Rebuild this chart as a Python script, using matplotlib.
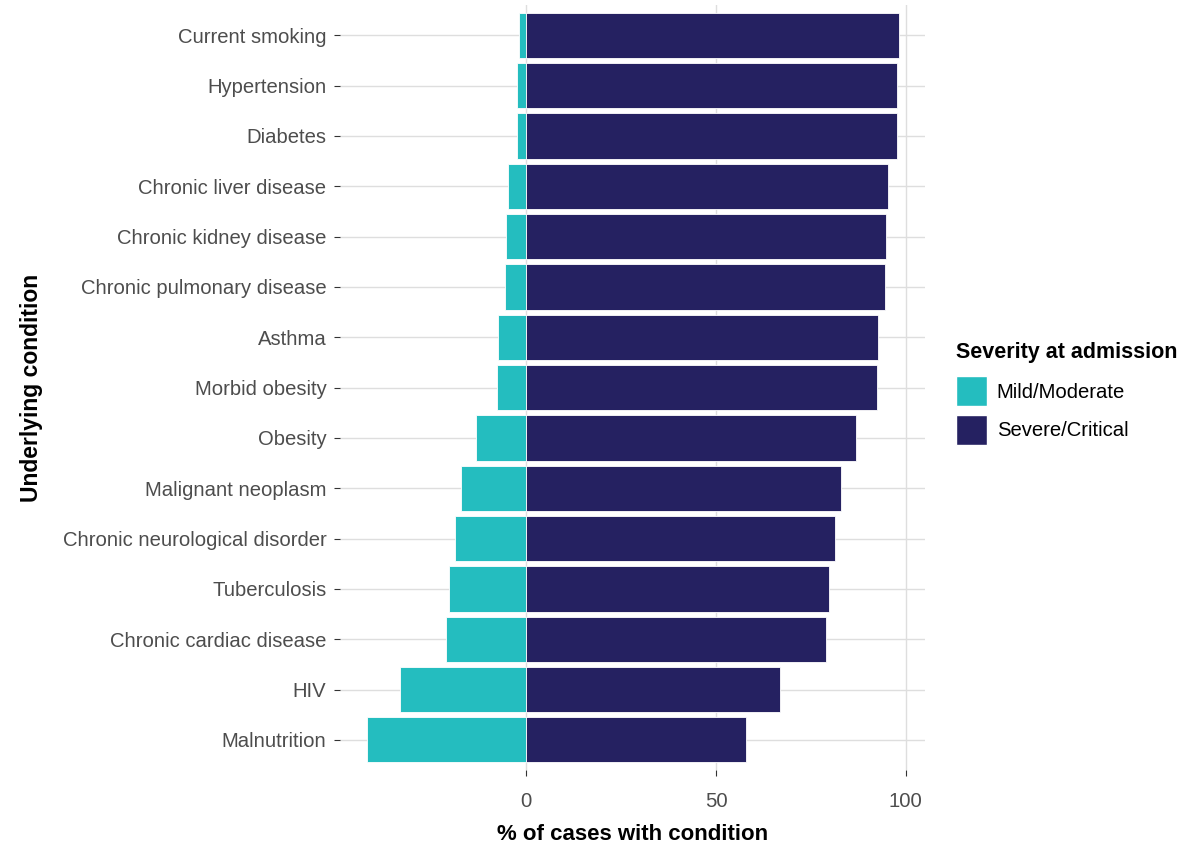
import matplotlib
matplotlib.use('Agg')
import matplotlib.pyplot as plt
from matplotlib.patches import Patch

plt.rcParams['font.family'] = ['Liberation Sans', 'DejaVu Sans']

conditions = ['Current smoking', 'Hypertension', 'Diabetes', 'Chronic liver disease',
              'Chronic kidney disease', 'Chronic pulmonary disease', 'Asthma',
              'Morbid obesity', 'Obesity', 'Malignant neoplasm',
              'Chronic neurological disorder', 'Tuberculosis', 'Chronic cardiac disease',
              'HIV', 'Malnutrition']
mild = [1.8, 2.4, 2.4, 4.8, 5.3, 5.5, 7.4, 7.7, 13.2, 17.2, 18.7, 20.3, 21.1, 33.2, 42.0]
severe = [98.2, 97.6, 97.6, 95.2, 94.7, 94.5, 92.6, 92.3, 86.8, 82.8, 81.3, 79.7, 78.9, 66.8, 58.0]
xticks = [0, 50, 100]

teal = '#24BDBF'
navy = '#252161'
grid = '#DEDEDE'
txt = '#4D4D4D'

fig = plt.figure(figsize=(11.98, 8.49), dpi=100)
ax = fig.add_axes([0.284, 0.093, 0.488, 0.901])

ypos = list(range(len(conditions)))[::-1]
ax.barh(ypos, [-m for m in mild], height=0.9, color=teal, edgecolor='white', linewidth=0.6, zorder=3)
ax.barh(ypos, severe, height=0.9, color=navy, edgecolor='white', linewidth=0.6, zorder=3)

ax.set_xlim(-49, 105)
ax.set_ylim(-0.6, len(conditions) - 0.4)
ax.set_yticks(ypos)
ax.set_yticklabels(conditions, fontsize=14.6, color=txt)
ax.set_xticks(xticks)
ax.set_xticklabels([str(v) for v in xticks], fontsize=14.6, color=txt)
ax.tick_params(axis='both', length=4, width=0.8, color='#333333')
ax.tick_params(axis='x', pad=12)
ax.tick_params(axis='y', pad=6)

ax.grid(True, color=grid, linewidth=1.0, zorder=0)
ax.set_axisbelow(True)
for s in ax.spines.values():
    s.set_visible(False)

ax.set_xlabel('% of cases with condition', fontsize=16, fontweight='bold', labelpad=9)
ax.set_ylabel('Underlying condition', fontsize=16.5, fontweight='bold', labelpad=14)

handles = [Patch(facecolor=teal, edgecolor='white'), Patch(facecolor=navy, edgecolor='white')]
leg = fig.legend(handles, ['Mild/Moderate', 'Severe/Critical'], loc='center left',
                 bbox_to_anchor=(0.783, 0.537), frameon=False, fontsize=14.6,
                 title='Severity at admission', handlelength=1.5, handleheight=1.9,
                 handletextpad=0.5, labelspacing=0.4, alignment='left')
leg.get_title().set_fontweight('bold')
leg.get_title().set_fontsize(15.5)
leg._legend_box.sep = 10

fig.savefig('out.png', dpi=100, facecolor='white')
